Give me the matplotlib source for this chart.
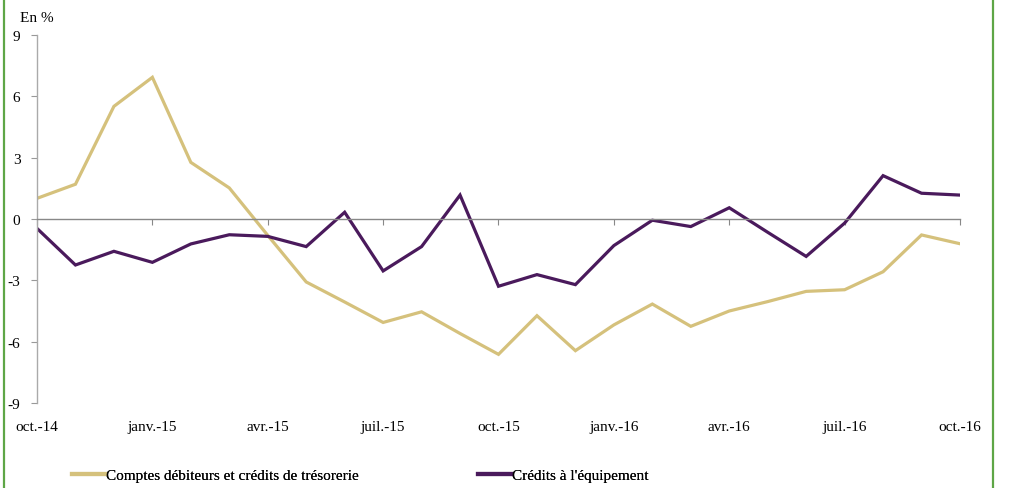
import matplotlib
matplotlib.use("Agg")
import matplotlib.pyplot as plt
from matplotlib.lines import Line2D
import numpy as np

months = ["oct.-14", "nov.-14", "déc.-14", "janv.-15", "févr.-15", "mars-15", "avr.-15",
          "mai-15", "juin-15", "juil.-15", "août-15", "sept.-15", "oct.-15", "nov.-15",
          "déc.-15", "janv.-16", "févr.-16", "mars-16", "avr.-16", "mai-16", "juin-16",
          "juil.-16", "août-16", "sept.-16", "oct.-16"]
comptes_debiteurs = [1.01, 1.70, 5.51, 6.93, 2.77, 1.52, -0.80, -3.08, -4.06, -5.06, -4.54,
                     -5.60, -6.62, -4.73, -6.44, -5.18, -4.16, -5.25, -4.50, -4.04, -3.54,
                     -3.46, -2.58, -0.78, -1.21]
credits_equipement = [-0.46, -2.25, -1.58, -2.12, -1.22, -0.77, -0.85, -1.35, 0.33, -2.54,
                      -1.35, 1.17, -3.29, -2.72, -3.21, -1.30, -0.06, -0.37, 0.55, -0.65,
                      -1.83, -0.20, 2.12, 1.26, 1.17]
series_names = ["Comptes débiteurs et crédits de trésorerie", "Crédits à l'équipement"]
y_ticks = [9, 6, 3, 0, -3, -6, -9]
label_months = ["oct.-14", "janv.-15", "avr.-15", "juil.-15", "oct.-15", "janv.-16",
                "avr.-16", "juil.-16", "oct.-16"]

plt.rcParams['font.family'] = ['Liberation Serif', 'DejaVu Serif']

W, H = 1011, 489
fig = plt.figure(figsize=(W / 100, H / 100), dpi=100)
ax = fig.add_axes([37 / W, 1 - 404 / H, (960 - 37) / W, (404 - 36) / H])

x = np.arange(len(months))
gold = "#D5C17C"
purple = "#4A1A5C"
l1, = ax.plot(x, comptes_debiteurs, color=gold, lw=2.3, solid_joinstyle='miter')
l2, = ax.plot(x, credits_equipement, color=purple, lw=2.3, solid_joinstyle='miter')

ax.set_xlim(0, len(months) - 1)
ax.set_ylim(-9, 9)
ax.set_yticks(y_ticks)
ax.set_yticklabels([str(v) for v in y_ticks])
ax.tick_params(axis='y', direction='out', length=4, color='#999999', labelsize=11, pad=8)

for s in ['top', 'right']:
    ax.spines[s].set_visible(False)
ax.spines['left'].set_color('#AAAAAA')
ax.spines['left'].set_linewidth(1.0)
ax.spines['bottom'].set_position(('data', 0))
ax.spines['bottom'].set_color('#888888')
ax.spines['bottom'].set_linewidth(1.0)

tick_pos = [months.index(m) for m in label_months]
ax.set_xticks(tick_pos)
ax.tick_params(axis='x', direction='out', length=4, color='#888888', labelbottom=False)

sec = ax.secondary_xaxis(-0.045)
sec.set_xticks(tick_pos)
sec.set_xticklabels(label_months)
sec.tick_params(axis='x', length=0, labelsize=11, pad=0)
sec.spines['bottom'].set_visible(False)

fig.text(20 / W, 1 - 18 / H, "En %", fontsize=11, va='center', ha='left')

for line, name, x0 in [(l1, series_names[0], 72), (l2, series_names[1], 478)]:
    leg = fig.legend(handles=[line], labels=[name], loc='center left',
                     bbox_to_anchor=(x0 / W, 1 - 476 / H), frameon=False,
                     fontsize=11, handlelength=2.15, handletextpad=0.1,
                     borderaxespad=0, borderpad=0)
    for h in leg.legend_handles:
        h.set_linewidth(3)
    fig.add_artist(leg)

fig.add_artist(Line2D([3.5 / W, 3.5 / W], [0, 1], color="#5EA646", lw=1.6,
                      transform=fig.transFigure))
fig.add_artist(Line2D([993 / W, 993 / W], [0, 1], color="#5EA646", lw=1.6,
                      transform=fig.transFigure))

fig.savefig("out.png", dpi=100)
